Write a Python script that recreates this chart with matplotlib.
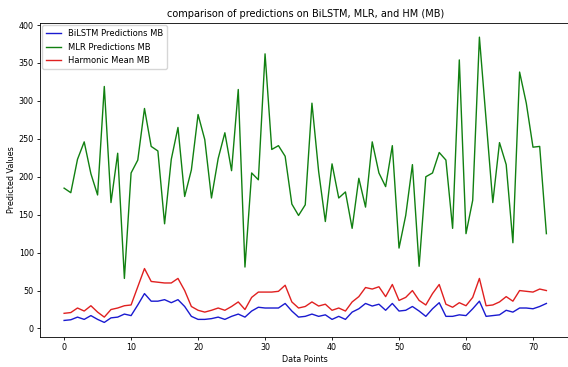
import matplotlib
matplotlib.use("Agg")
import matplotlib.pyplot as plt

# valeurs (73 points)
bilstm = [10.6, 11.5, 15, 12, 17, 12, 8, 14, 15, 19, 17, 31, 46, 36, 36, 38, 34, 38, 29, 16,
          12, 12, 13, 15, 12, 16, 19, 15, 23, 28, 27, 27, 27, 33, 23, 15, 16, 19, 16, 18,
          12, 16, 12, 21.6, 26, 33, 29.6, 32, 24, 33, 23, 24, 29, 23, 16, 26, 34, 16, 16, 18,
          17, 26, 36, 16, 17, 18, 24, 21.6, 27, 27, 26, 29, 33]
mlr = [185, 179, 223, 246, 204, 176, 319, 166, 231, 66, 205, 222, 290, 240, 234, 138, 223, 265, 174, 209,
       282, 249, 172, 224, 258, 208, 315, 81, 205, 196, 362, 236, 241, 227, 164, 149, 163, 297, 207, 141,
       217, 172, 180, 132, 198, 160, 246, 205, 187, 241, 106, 149, 216, 82, 200, 205, 232, 222, 132, 354,
       125, 169, 384, 275, 166, 245, 216, 113, 338, 297, 239, 240, 125]
hm = [20, 21, 27, 23, 30, 21.6, 15, 25, 27, 30, 31, 55, 79, 62, 61, 60, 60, 66, 50, 29,
      24, 21.6, 24, 27, 24, 29, 35, 25, 41, 48, 48, 48, 49, 57, 35, 27, 29, 35, 29.6, 32,
      24, 27, 23, 35, 42, 54, 52, 55, 42, 58, 37, 41, 50, 37, 31, 46, 58, 32, 28, 34,
      30, 41, 66, 30, 31, 35, 42, 36, 50, 49, 48, 52, 50]
points = list(range(len(mlr)))

fig = plt.figure(figsize=(5.68, 3.67), dpi=100)
ax = fig.add_axes([0.0704, 0.0826, 0.934, 0.855])

ax.plot(points, bilstm, color="#1a1ad0", lw=1.0, label="BiLSTM Predictions MB")
ax.plot(points, mlr, color="#118011", lw=1.0, label="MLR Predictions MB")
ax.plot(points, hm, color="#e02020", lw=1.0, label="Harmonic Mean MB")

ax.set_title("comparison of predictions on BiLSTM, MLR, and HM (MB)", fontsize=7, pad=4)
ax.set_xlabel("Data Points", fontsize=5.8, labelpad=2)
ax.set_ylabel("Predicted Values", fontsize=5.8, labelpad=2)
ax.tick_params(labelsize=5.8, length=2.5, width=0.6, pad=2)
for s in ax.spines.values():
    s.set_linewidth(0.6)
ax.legend(loc="upper left", fontsize=6, handlelength=1.8, borderpad=0.45, labelspacing=0.55,
          borderaxespad=0.3)

fig.savefig("out.png", dpi=100)
